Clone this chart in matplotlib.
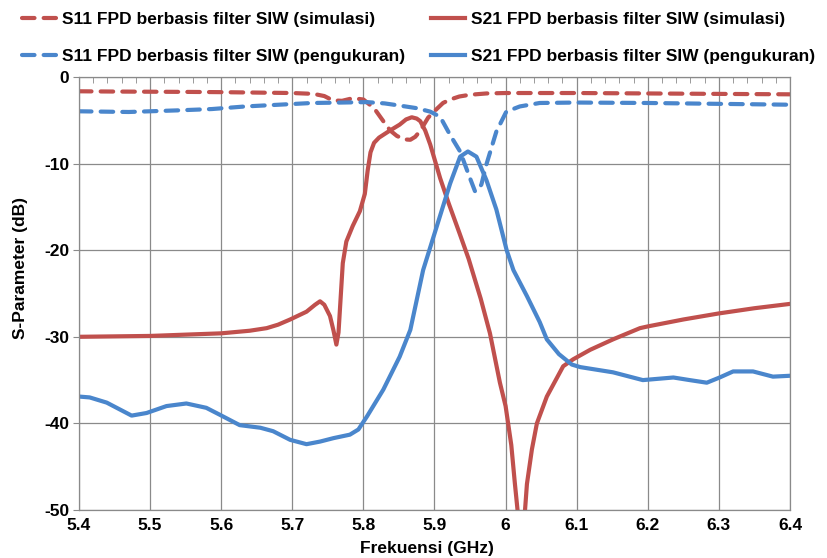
import numpy as np
import matplotlib
matplotlib.use("AGG")
import matplotlib.pyplot as plt
from matplotlib.ticker import MultipleLocator

plt.rcParams['font.family'] = ['Liberation Sans', 'DejaVu Sans']
plt.rcParams['font.weight'] = 'bold'
plt.rcParams['axes.unicode_minus'] = False

# S11 simulasi
f_s11_sim = [5.40, 5.45, 5.50, 5.55, 5.60, 5.65, 5.70, 5.73, 5.745, 5.757, 5.77, 5.785,
             5.80, 5.815, 5.828, 5.838, 5.847, 5.857, 5.866, 5.873, 5.88, 5.891, 5.903,
             5.912, 5.922, 5.935, 5.95, 5.973, 6.0, 6.1, 6.2, 6.3, 6.4]
s11_sim = [-1.65, -1.68, -1.70, -1.72, -1.75, -1.80, -1.85, -1.95, -2.2, -2.7, -2.75, -2.45,
           -2.6, -3.6, -5.1, -6.2, -6.8, -7.2, -7.25, -6.9, -6.2, -4.7, -3.7,
           -3.0, -2.6, -2.25, -2.05, -1.9, -1.85, -1.85, -1.9, -1.95, -2.0]

# S21 simulasi
f_s21_sim = [5.40, 5.50, 5.60, 5.64, 5.664, 5.68, 5.697, 5.72, 5.732, 5.739, 5.745, 5.753,
             5.758, 5.762, 5.765, 5.768, 5.771, 5.776, 5.785, 5.795, 5.802, 5.806, 5.81,
             5.815, 5.822, 5.837, 5.851, 5.86, 5.868, 5.875, 5.88, 5.887, 5.894, 5.908,
             5.92, 5.935, 5.948, 5.965, 5.978, 5.992, 6.0, 6.008, 6.013, 6.018, 6.022,
             6.026, 6.03, 6.037, 6.044, 6.058, 6.081, 6.095, 6.119, 6.151, 6.189, 6.2,
             6.25, 6.3, 6.35, 6.4]
s21_sim = [-30.0, -29.9, -29.6, -29.3, -29.0, -28.6, -28.0, -27.1, -26.3, -25.9, -26.3, -27.6,
           -29.3, -30.9, -29.5, -25.5, -21.5, -19.0, -17.2, -15.5, -13.5, -10.8, -8.7,
           -7.6, -7.0, -6.2, -5.5, -4.9, -4.65, -4.8, -5.1, -6.2, -7.8, -11.7,
           -14.6, -18.0, -21.0, -25.6, -29.6, -35.3, -38.0, -42.5, -46.9, -51.0, -56.0,
           -51.5, -47.0, -43.0, -40.0, -36.9, -33.4, -32.6, -31.5, -30.3, -29.0, -28.8,
           -28.0, -27.3, -26.7, -26.2]

# S11 pengukuran
f_s11_meas = [5.40, 5.47, 5.54, 5.587, 5.634, 5.681, 5.728, 5.77, 5.805, 5.83, 5.851, 5.875,
              5.894, 5.908, 5.922, 5.936, 5.95, 5.957, 5.962, 5.966, 5.973, 5.987, 6.001,
              6.02, 6.048, 6.1, 6.2, 6.3, 6.4]
s11_meas = [-3.96, -4.04, -3.85, -3.7, -3.4, -3.2, -3.0, -2.95, -2.9, -3.05, -3.3, -3.6,
            -4.0, -4.6, -6.7, -8.6, -11.7, -13.2, -13.0, -12.4, -10.1, -6.3, -4.0,
            -3.4, -3.0, -2.95, -3.0, -3.1, -3.2]

# S21 pengukuran
f_s21_meas = [5.40, 5.415, 5.439, 5.474, 5.495, 5.523, 5.551, 5.579, 5.598, 5.626, 5.655,
              5.673, 5.697, 5.72, 5.739, 5.758, 5.781, 5.793, 5.805, 5.828, 5.851, 5.866,
              5.884, 5.903, 5.922, 5.936, 5.947, 5.959, 5.973, 5.987, 6.0015, 6.011, 6.03,
              6.048, 6.058, 6.075, 6.093, 6.105, 6.151, 6.193, 6.236, 6.259, 6.283, 6.301,
              6.32, 6.348, 6.376, 6.4]
s21_meas = [-36.9, -37.0, -37.6, -39.1, -38.8, -38.0, -37.7, -38.2, -39.0, -40.2, -40.5,
            -40.9, -41.9, -42.4, -42.1, -41.7, -41.3, -40.7, -39.2, -36.1, -32.3, -29.2,
            -22.3, -17.3, -12.3, -9.2, -8.6, -9.2, -11.9, -15.3, -20.0, -22.3, -25.3,
            -28.3, -30.3, -32.0, -33.2, -33.5, -34.1, -35.0, -34.7, -35.0, -35.3, -34.7,
            -34.0, -34.0, -34.6, -34.5]

red = '#C0504D'
blue = '#4A86CC'
fs = 12.5

fig = plt.figure(figsize=(8.27, 5.58), dpi=100)
ax = fig.add_axes([79/827, 1-510/558, 711/827, 433/558])

l1, = ax.plot(f_s11_sim, s11_sim, '--', color=red, lw=3, dashes=(3, 2.2),
              dash_capstyle='round', label='S11 FPD berbasis filter SIW (simulasi)')
l3, = ax.plot(f_s11_meas, s11_meas, '--', color=blue, lw=3, dashes=(3, 2.2),
              dash_capstyle='round', label='S11 FPD berbasis filter SIW (pengukuran)')
l2, = ax.plot(f_s21_sim, s21_sim, '-', color=red, lw=3,
              label='S21 FPD berbasis filter SIW (simulasi)')
l4, = ax.plot(f_s21_meas, s21_meas, '-', color=blue, lw=3,
              label='S21 FPD berbasis filter SIW (pengukuran)')

ax.set_xlim(5.4, 6.4)
ax.set_ylim(-50, 0)
ax.xaxis.set_minor_locator(MultipleLocator(0.02))
ax.yaxis.set_major_locator(MultipleLocator(10))
ax.set_xticks(np.arange(5.4, 6.41, 0.1))
ax.set_xticklabels(['5.4', '5.5', '5.6', '5.7', '5.8', '5.9', '6', '6.1', '6.2', '6.3', '6.4'])
ax.grid(True, which='major', color='#8a8a8a', lw=0.9)
for s in ax.spines.values():
    s.set_color('#8a8a8a')
    s.set_linewidth(0.9)
ax.tick_params(axis='x', which='major', length=0, pad=6, labelsize=fs)
ax.tick_params(axis='x', which='minor', top=True, bottom=False, direction='in',
               length=4, color='#8a8a8a')
ax.tick_params(axis='y', which='major', length=4, color='#8a8a8a', labelsize=fs, pad=3)

ax.set_xlabel('Frekuensi (GHz)', fontsize=fs, fontweight='bold')
ax.xaxis.set_label_coords(0.49, -0.072)
ax.set_ylabel('S-Parameter (dB)', fontsize=fs, fontweight='bold')
ax.yaxis.set_label_coords(-0.072, 0.56)

fig.legend(handles=[l1, l3, l2, l4], ncol=2, loc='upper left',
           bbox_to_anchor=(0.008, 1.006), frameon=False, fontsize=fs,
           handlelength=1.95, handletextpad=0.35, columnspacing=1.5, labelspacing=1.22)

fig.savefig('out.png', dpi=100)
